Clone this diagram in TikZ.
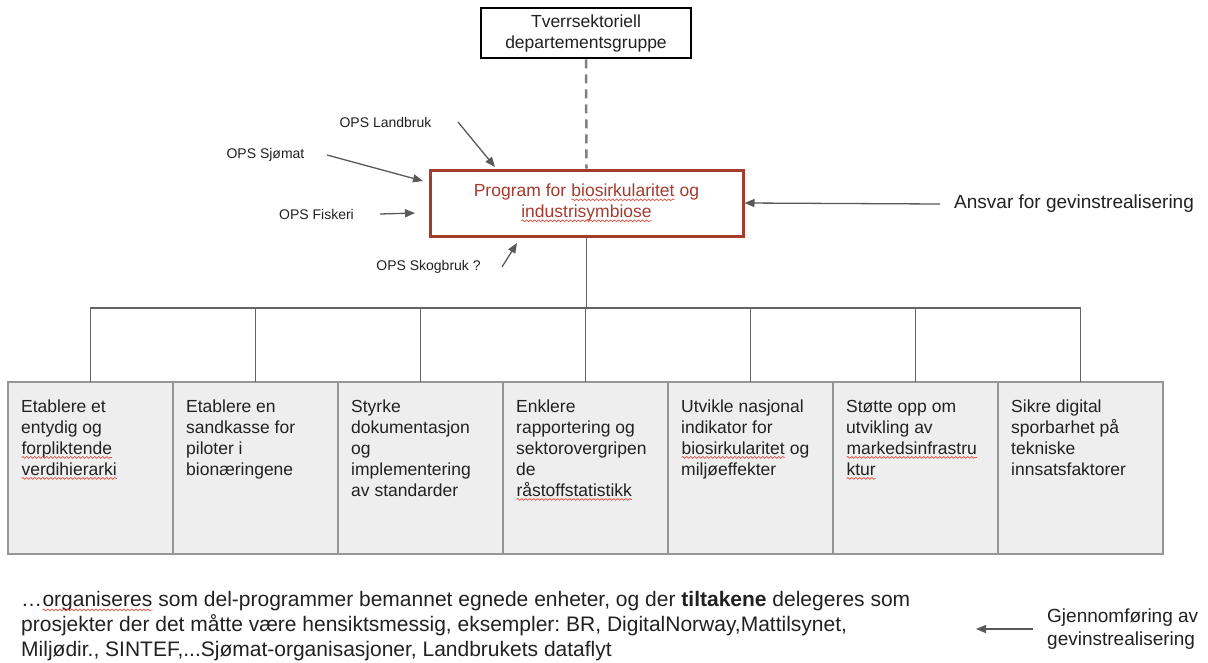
\documentclass[tikz,border=0pt]{standalone}
\usepackage{fontspec}
\setmainfont{Liberation Sans}
\usetikzlibrary{arrows.meta,calc,decorations.pathmorphing}
\frenchspacing

\definecolor{progred}{RGB}{166,58,45}
\definecolor{spellred}{RGB}{226,80,70}
\definecolor{arrowgray}{RGB}{89,89,89}
\definecolor{dashgray}{RGB}{128,128,128}
\definecolor{treegray}{RGB}{100,100,100}
\definecolor{boxfill}{RGB}{238,238,238}
\definecolor{boxline}{RGB}{150,150,150}
\definecolor{ink}{RGB}{33,33,33}

% red wavy underline for flagged words
\newcommand\spellwave[1]{\tikz[baseline=(w.base)]{%
  \node[draw=none, fill=none, shape=rectangle, inner sep=0pt, outer sep=0pt,
    minimum width=0pt, minimum height=0pt, anchor=base west] (w) {#1};
  \draw[draw=spellred, line width=0.7pt, decorate,
    decoration={snake, segment length=4pt, amplitude=0.9pt}]
    ([yshift=-3.2pt]w.base west) -- ([yshift=-3.2pt]w.base east);}}

\begin{document}
\begin{tikzpicture}[x=1pt,y=-1pt,
  font=\fontsize{17.5}{21}\selectfont, text=ink,
  arr/.style={draw=arrowgray, line width=1.3pt, -{Triangle[length=10pt,width=8pt]}},
  tree/.style={draw=treegray, line width=1.3pt},
  taskbox/.style={draw=boxline, line width=2pt, fill=boxfill, minimum width=165pt,
    minimum height=172pt, inner sep=0pt, outer sep=0pt, anchor=north west},
  tasktext/.style={anchor=north west, inner sep=0pt, align=left},
  opslabel/.style={font=\fontsize{14}{17}\selectfont, inner sep=0pt},
  biglabel/.style={font=\fontsize{19}{23}\selectfont, inner sep=0pt, align=left}]

\useasboundingbox (0,0) rectangle (1208,662);

% top level
\node[draw=black, line width=2.8pt, minimum width=210pt, minimum height=50pt,
  align=center, inner sep=0pt] (dept) at (586,33) {Tverrsektoriell\\departementsgruppe};

\node[draw=progred, text=progred, line width=3pt, minimum width=313pt,
  minimum height=66pt, align=center, inner sep=0pt] (prog) at (586.5,203)
  {Program for \spellwave{biosirkularitet} og\\\spellwave{industrisymbiose}};

\draw[draw=dashgray, line width=2.5pt, dash pattern=on 9pt off 6pt] (dept.south) -- (prog.north);

% incoming partnerships
\node[opslabel] (landbruk) at (385.5,122) {OPS Landbruk};
\node[opslabel] (sjomat) at (265.5,155) {OPS Sjømat};
\node[opslabel] (fiskeri) at (316.5,214) {OPS Fiskeri};
\node[opslabel] (skogbruk) at (428.5,267) {OPS Skogbruk ?};

\coordinate (landbruk-from) at (458,122);
\coordinate (landbruk-to) at (495,167);
\coordinate (sjomat-from) at (327,155);
\coordinate (sjomat-to) at (423,181);
\coordinate (fiskeri-from) at (380,214);
\coordinate (fiskeri-to) at (415,213);
\coordinate (skogbruk-from) at (502,267);
\coordinate (skogbruk-to) at (517,243);
\draw[arr] (landbruk-from) -- (landbruk-to);
\draw[arr] (sjomat-from) -- (sjomat-to);
\draw[arr] (fiskeri-from) -- (fiskeri-to);
\draw[arr] (skogbruk-from) -- (skogbruk-to);

% responsibility
\node[biglabel, anchor=west] (ansvar) at (954,204) {Ansvar for gevinstrealisering};
\draw[arr] ($(ansvar.west)+(-14,0)$) -- (prog.east);

% measures
\node[taskbox] (b1) at (8,382) {};
\node[taskbox] (b2) at (173,382) {};
\node[taskbox] (b3) at (338,382) {};
\node[taskbox] (b4) at (503,382) {};
\node[taskbox] (b5) at (668,382) {};
\node[taskbox] (b6) at (833,382) {};
\node[taskbox] (b7) at (998,382) {};

\node[tasktext] (t1) at ($(b1.north west)+(13,15.3)$)
  {\strut Etablere et\\entydig og\\\spellwave{forpliktende}\\\spellwave{verdihierarki}};
\node[tasktext] (t2) at ($(b2.north west)+(13,15.3)$)
  {\strut Etablere en\\sandkasse for\\piloter i\\bionæringene};
\node[tasktext] (t3) at ($(b3.north west)+(13,15.3)$)
  {\strut Styrke\\dokumentasjon\\og\\implementering\\av standarder};
\node[tasktext] (t4) at ($(b4.north west)+(13,15.3)$)
  {\strut Enklere\\rapportering og\\sektorovergripen\\de\\\spellwave{råstoffstatistikk}};
\node[tasktext] (t5) at ($(b5.north west)+(13,15.3)$)
  {\strut Utvikle nasjonal\\indikator for\\\spellwave{biosirkularitet} og\\miljøeffekter};
\node[tasktext] (t6) at ($(b6.north west)+(13,15.3)$)
  {\strut Støtte opp om\\utvikling av\\\spellwave{markedsinfrastru}\\\spellwave{ktur}};
\node[tasktext] (t7) at ($(b7.north west)+(13,15.3)$)
  {\strut Sikre digital\\sporbarhet på\\tekniske\\innsatsfaktorer};

% tree from programme to measures
\coordinate (busline) at (586,308);
\foreach \i in {1,...,7}
  \draw[tree] (prog.south) -- (prog.south |- busline) -| (b\i.north);

% execution note
\node[anchor=north west, inner sep=0pt, align=left, font=\fontsize{21}{25}\selectfont] (note) at (21,589)
  {\strut …\spellwave{organiseres} som del-programmer bemannet egnede enheter, og der \textbf{tiltakene} delegeres som\\
   prosjekter der det måtte være hensiktsmessig, eksempler: BR, DigitalNorway,Mattilsynet,\\
   Miljødir., SINTEF,...Sjømat-organisasjoner, Landbrukets dataflyt};

\node[biglabel, anchor=west] (gjen) at (1047,629) {Gjennomføring av\\gevinstrealisering};
\coordinate (gjen-to) at (976,629);
\draw[arr] ($(gjen.west)+(-14,0)$) -- (gjen-to);

\end{tikzpicture}
\end{document}
